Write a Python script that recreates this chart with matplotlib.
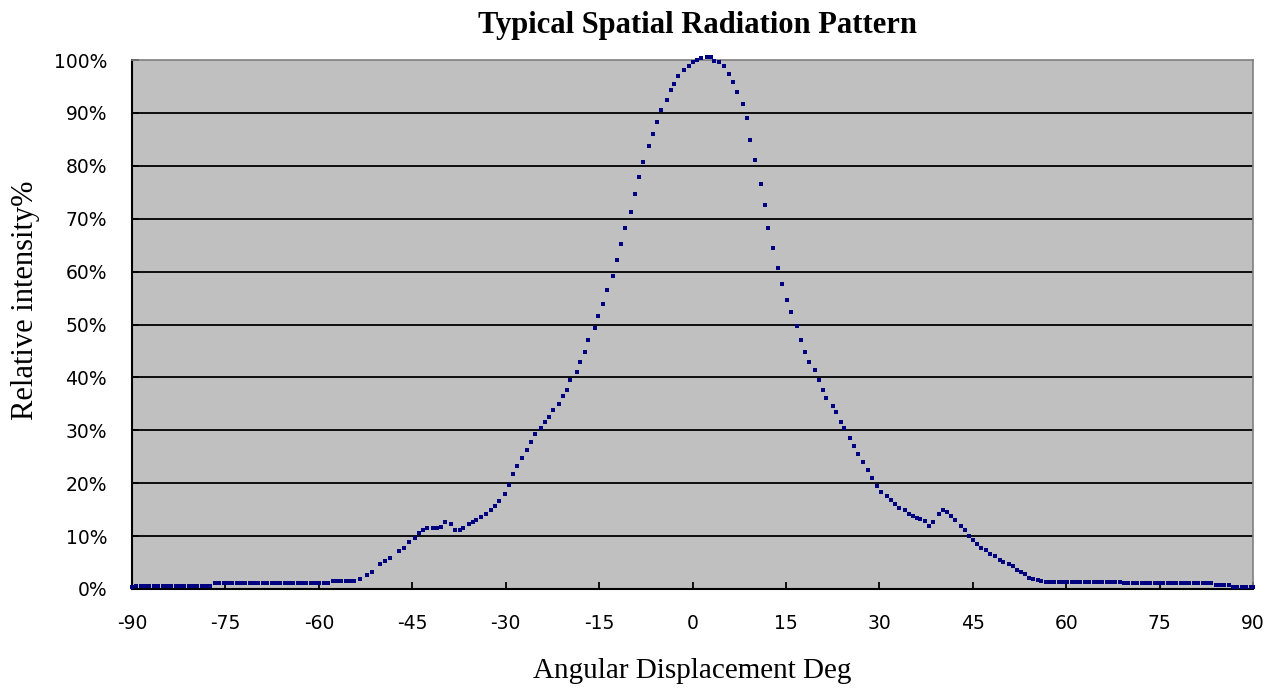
import matplotlib
matplotlib.use("Agg")
import matplotlib.pyplot as plt

# ---- data ----
# left flat tail
x_left = [-90.0, -89.3, -88.6, -87.9, -87.2, -86.5, -85.8, -85.1, -84.4, -83.7,
          -83.0, -82.3, -81.6, -80.9, -80.2, -79.5, -78.8, -78.1, -77.4,
          -76.7, -76.0, -75.3, -74.6, -73.9, -73.2, -72.5, -71.8, -71.1, -70.4,
          -69.7, -69.0, -68.3, -67.6, -66.9, -66.2, -65.5, -64.8, -64.1, -63.4,
          -62.7, -62.0, -61.3, -60.6, -59.9, -59.2, -58.5,
          -57.8, -57.1, -56.4, -55.7, -55.0, -54.3]
y_left = [0.3, 0.5, 0.5, 0.5, 0.5, 0.5, 0.5, 0.5, 0.5, 0.5,
          0.5, 0.5, 0.5, 0.5, 0.5, 0.5, 0.5, 0.5, 0.5,
          1.2, 1.2, 1.2, 1.2, 1.2, 1.2, 1.2, 1.2, 1.2, 1.2,
          1.2, 1.2, 1.2, 1.2, 1.2, 1.2, 1.2, 1.2, 1.2, 1.2,
          1.2, 1.2, 1.2, 1.2, 1.2, 1.2, 1.2,
          1.5, 1.5, 1.5, 1.5, 1.5, 1.6]

# central lobe
x_mid = [-53.4, -52.3, -51.5, -50.2, -49.4, -48.6, -47.2, -46.4, -45.5, -44.6,
         -43.9, -43.2, -42.6, -41.6, -41.0, -40.4, -39.7, -38.8, -38.1, -37.4,
         -36.9, -35.9, -35.2, -34.7, -34.0, -33.1, -32.4, -31.7, -31.0, -30.1,
         -29.5, -28.9, -28.1, -27.3, -26.6, -25.9, -25.3, -24.4, -23.7, -23.0,
         -22.4, -21.5, -20.8, -20.2, -19.6, -18.6, -18.0, -17.3, -16.7, -15.7,
         -15.1, -14.4, -13.8, -12.8, -12.2, -11.5, -10.8, -9.9, -9.3, -8.65,
         -8.0, -7.05, -6.4, -5.75, -5.1, -4.15, -3.5, -2.9, -2.25, -1.3,
         -0.6, 0.0, 0.7, 1.3, 2.3, 2.9, 3.5, 4.2, 5.1, 5.8,
         6.45, 7.1, 8.05, 8.7, 9.3, 10.0, 10.95, 11.6, 12.2, 12.85,
         13.8, 14.45, 15.1, 15.75, 16.7, 17.35, 18.0, 18.65, 19.6, 20.25,
         20.9, 21.5, 22.5, 23.1, 23.8, 24.4, 25.35, 26.0, 26.65, 27.3,
         28.25, 28.9, 29.55, 30.2, 31.2, 31.8, 32.45, 33.1, 34.05, 34.7,
         35.35, 36.0, 36.6, 37.3, 38.0, 38.65, 39.6, 40.3, 40.9, 41.55,
         42.2, 43.15, 43.8, 44.45, 45.1, 45.75, 46.4, 47.05, 47.7, 48.6,
         49.3, 49.9, 50.9, 51.5, 52.15, 52.8, 53.45, 54.1, 54.7, 55.4, 56.0]
y_mid = [1.9, 2.7, 3.3, 4.7, 5.2, 5.9, 7.1, 7.7, 8.8, 9.6,
         10.6, 11.2, 11.5, 11.5, 11.5, 11.8, 12.6, 12.2, 11.1, 11.1,
         11.5, 12.3, 12.6, 13.0, 13.7, 14.1, 14.9, 15.6, 16.7, 17.9,
         19.7, 21.7, 23.2, 24.7, 26.2, 27.8, 29.3, 30.4, 31.5, 32.6,
         33.8, 35.0, 36.5, 37.6, 39.5, 41.0, 42.9, 44.8, 47.1, 49.3,
         51.6, 53.9, 56.5, 59.2, 62.2, 65.2, 68.2, 71.3, 74.7, 77.8,
         80.7, 83.8, 86.0, 88.3, 90.5, 92.5, 94.4, 95.5, 97.0, 98.2,
         98.9, 99.7, 100.0, 100.3, 100.5, 100.5, 99.8, 99.6, 98.9, 97.4,
         95.9, 94.0, 91.7, 89.1, 84.9, 81.1, 76.6, 72.5, 68.2, 64.5,
         60.7, 57.7, 54.6, 52.4, 49.7, 47.1, 44.8, 42.9, 41.4, 39.5,
         37.6, 36.1, 34.6, 33.5, 31.6, 30.4, 28.5, 27.0, 25.5, 24.0,
         22.5, 21.0, 19.5, 18.3, 17.6, 16.8, 16.1, 15.3, 14.9, 14.2,
         13.8, 13.5, 13.3, 12.9, 12.0, 12.7, 14.2, 14.9, 14.6, 13.8,
         13.0, 11.9, 11.2, 10.0, 9.3, 8.5, 7.8, 7.4, 6.6, 6.2,
         5.5, 5.1, 4.7, 4.3, 3.6, 3.2, 2.8, 2.1, 1.9, 1.7, 1.5]

# right flat tail
x_right = [56.7, 57.4, 58.1, 58.8, 59.5, 60.2, 60.9, 61.6, 62.3, 63.0,
           63.7, 64.4, 65.1, 65.8, 66.5, 67.2, 67.9, 68.6,
           69.3, 70.0, 70.7, 71.4, 72.1, 72.8, 73.5, 74.2, 74.9, 75.6,
           76.3, 77.0, 77.7, 78.4, 79.1, 79.8, 80.5, 81.2, 81.9, 82.6, 83.3,
           84.0, 84.7, 85.4, 86.1,
           86.8, 87.5, 88.2, 88.9, 89.6, 90.0]
y_right = [1.4, 1.4, 1.4, 1.4, 1.4, 1.4, 1.4, 1.4, 1.4, 1.4,
           1.4, 1.4, 1.4, 1.4, 1.4, 1.4, 1.4, 1.4,
           1.1, 1.1, 1.1, 1.1, 1.1, 1.1, 1.1, 1.1, 1.1, 1.1,
           1.1, 1.1, 1.1, 1.1, 1.1, 1.1, 1.1, 1.1, 1.1, 1.1, 1.1,
           0.75, 0.75, 0.75, 0.75,
           0.4, 0.4, 0.4, 0.4, 0.4, 0.4]

x_ticks = [-90, -75, -60, -45, -30, -15, 0, 15, 30, 45, 60, 75, 90]
y_ticks = [0, 10, 20, 30, 40, 50, 60, 70, 80, 90, 100]
y_tick_labels = [f"{v}%" for v in y_ticks]

angles = x_left + x_mid + x_right
intensity = y_left + y_mid + y_right

# ---- figure ----
fig = plt.figure(figsize=(12.76, 6.89), dpi=100)
ax = fig.add_axes([132 / 1276, 1 - 589 / 689, (1253 - 132) / 1276, (589 - 60) / 689])
ax.set_facecolor("#C0C0C0")

ax.set_xlim(-90, 90)
ax.set_ylim(0, 100)
ax.set_xticks(x_ticks)
ax.set_xticklabels([str(v) for v in x_ticks])
ax.set_yticks(y_ticks)
ax.set_yticklabels(y_tick_labels)

for v in y_ticks[1:-1]:
    ax.axhline(v, color="black", lw=1.3, zorder=1)

ax.plot(angles, intensity, linestyle="none", marker="s", markersize=3.0,
        color="#000080", markeredgewidth=0, zorder=3, clip_on=False)

for s in ["left", "bottom"]:
    ax.spines[s].set_color("black")
    ax.spines[s].set_linewidth(1.5)
for s in ["top", "right"]:
    ax.spines[s].set_color("#808080")
    ax.spines[s].set_linewidth(1.2)

ax.tick_params(axis="both", direction="in", length=5, width=1.3, color="black",
               labelsize=13.5, labelcolor="black")
ax.tick_params(axis="x", pad=18)
ax.tick_params(axis="y", pad=18)
for lab in ax.get_xticklabels() + ax.get_yticklabels():
    lab.set_fontfamily("DejaVu Sans")

fig.text(697 / 1276, 1 - 25 / 689, "Typical Spatial Radiation Pattern",
         ha="center", va="center", fontsize=22, fontweight="bold",
         family="Liberation Serif")
fig.text(692 / 1276, 1 - 671 / 689, "Angular Displacement Deg",
         ha="center", va="center", fontsize=21, family="Liberation Serif")
fig.text(26 / 1276, 1 - 300 / 689, "Relative intensity%", rotation=90,
         ha="center", va="center", fontsize=22, family="Liberation Serif")

fig.savefig("out.png", dpi=100)
